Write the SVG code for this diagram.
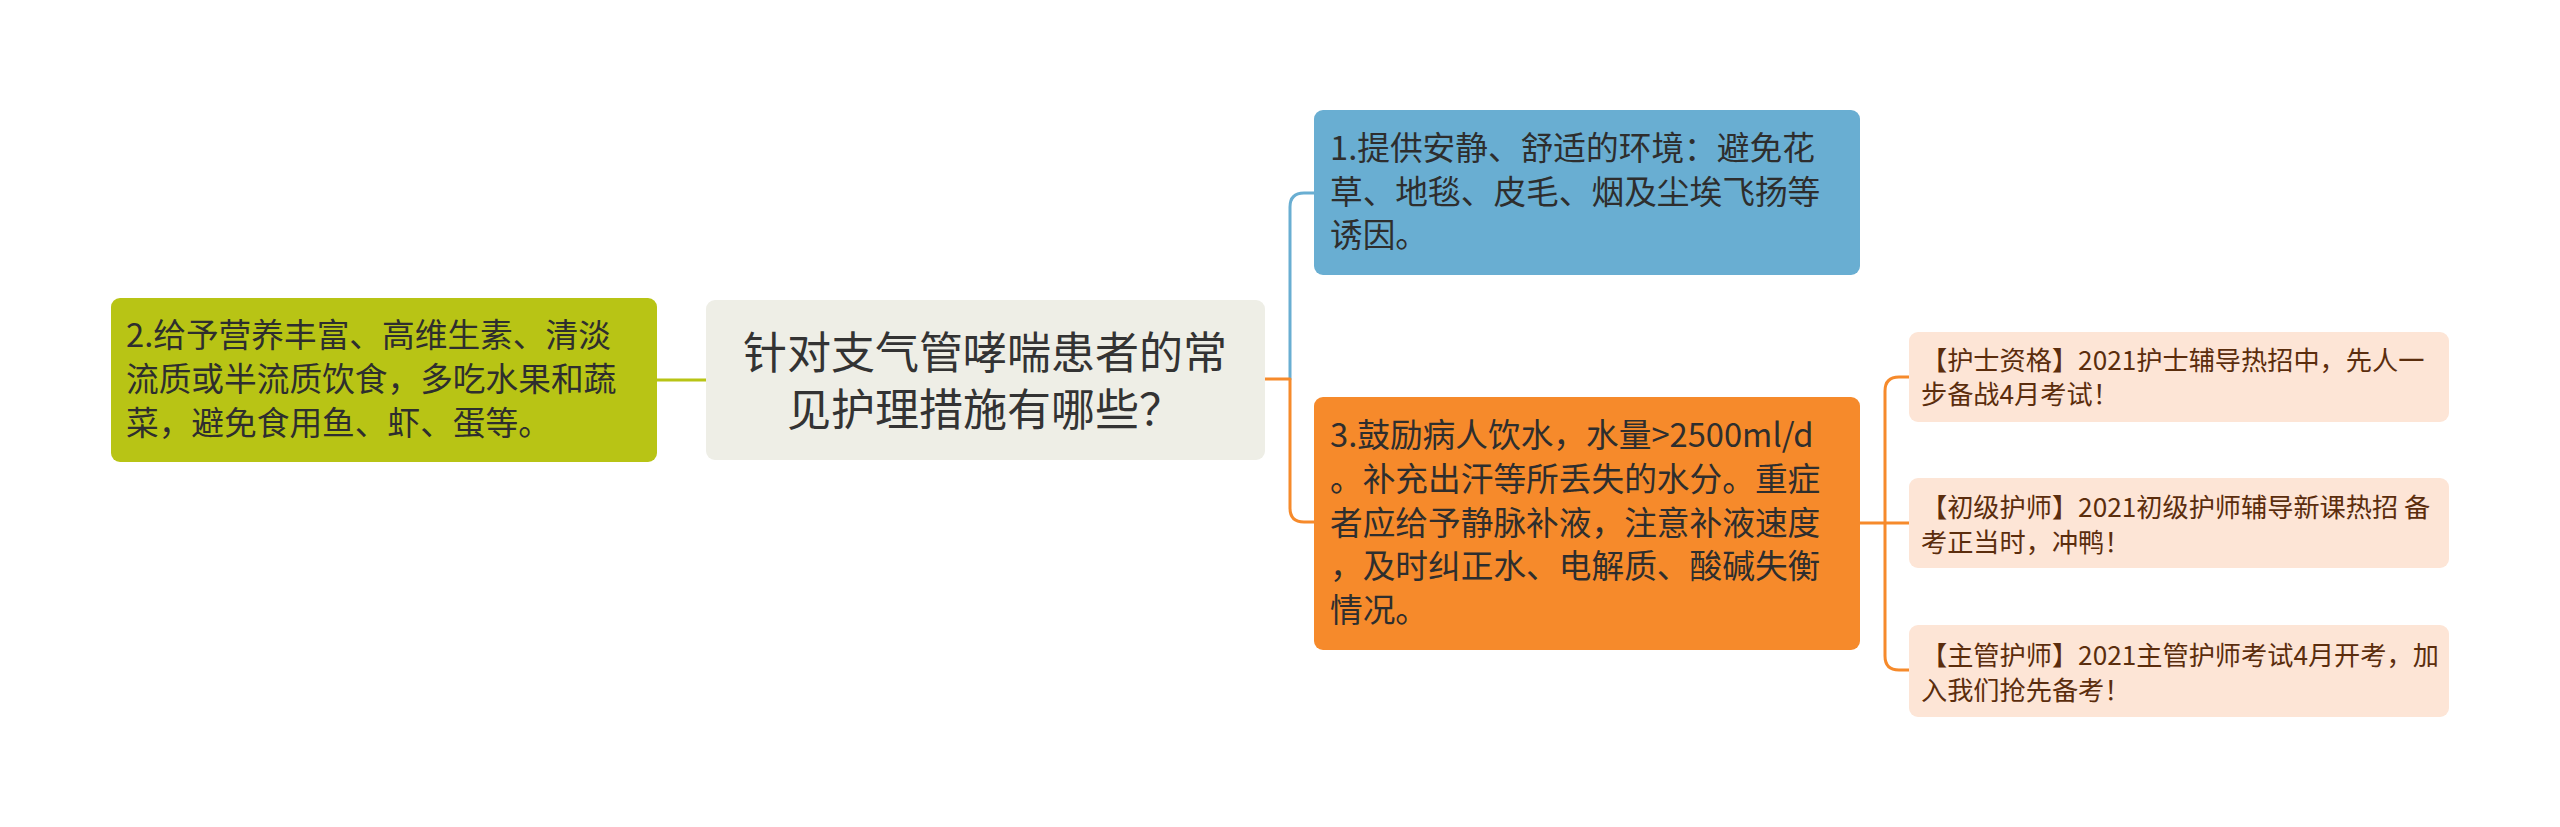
<svg xmlns="http://www.w3.org/2000/svg" width="2560" height="827" viewBox="0 0 2560 827">
<style>
.t{font-family:"Noto Sans CJK SC","Noto Sans",sans-serif;font-size:32.7px;fill:#2e2e2e}
.c{font-family:"Noto Sans CJK SC","Noto Sans",sans-serif;font-size:44px;fill:#333333;text-anchor:middle}
.s{font-family:"Noto Sans CJK SC","Noto Sans",sans-serif;font-size:26.2px;fill:#5b2d0d}
.ln{fill:none;stroke-width:3;stroke-linecap:round;stroke-linejoin:round}
</style>
<rect width="2560" height="827" fill="#ffffff"/>
<g id="connectors">
<path class="ln" stroke="#b8c415" d="M657,380 H706"/>
<path class="ln" stroke="#69aed2" d="M1290,379 V207 Q1290,193 1304,193 H1314"/>
<path class="ln" stroke="#f68a2b" d="M1265,379 H1290 V508 Q1290,522 1304,522 H1314"/>
<path class="ln" stroke="#f68a2b" d="M1860,523 H1909"/>
<path class="ln" stroke="#f68a2b" d="M1885,523 V391 Q1885,377 1899,377 H1909"/>
<path class="ln" stroke="#f68a2b" d="M1885,523 V656 Q1885,670 1899,670 H1909"/>
</g>
<g id="node-center">
<rect x="706" y="300" width="559" height="160" rx="9" fill="#eeeee6"/>
<text class="c" x="985" y="369">针对支气管哮喘患者的常</text>
<text class="c" x="985" y="426">见护理措施有哪些？</text>
</g>
<g id="node-2">
<rect x="111" y="298" width="546" height="164" rx="9" fill="#b8c415"/>
<text class="t" x="126" y="347">2.给予营养丰富、高维生素、清淡</text>
<text class="t" x="126" y="391">流质或半流质饮食，多吃水果和蔬</text>
<text class="t" x="126" y="435">菜，避免食用鱼、虾、蛋等。</text>
</g>
<g id="node-1">
<rect x="1314" y="110" width="546" height="165" rx="9" fill="#69aed2"/>
<text class="t" x="1330" y="160">1.提供安静、舒适的环境：避免花</text>
<text class="t" x="1330" y="204">草、地毯、皮毛、烟及尘埃飞扬等</text>
<text class="t" x="1330" y="247">诱因。</text>
</g>
<g id="node-3">
<rect x="1314" y="397" width="546" height="253" rx="9" fill="#f68a2b"/>
<text class="t" x="1330" y="447">3.鼓励病人饮水，水量&gt;2500ml/d</text>
<text class="t" x="1330" y="491">。补充出汗等所丢失的水分。重症</text>
<text class="t" x="1330" y="535">者应给予静脉补液，注意补液速度</text>
<text class="t" x="1330" y="578">，及时纠正水、电解质、酸碱失衡</text>
<text class="t" x="1330" y="622">情况。</text>
</g>
<g id="node-ad1">
<rect x="1909" y="332" width="540" height="90" rx="9" fill="#fde5d6"/>
<text class="s" x="1921" y="370">【护士资格】2021护士辅导热招中，先人一</text>
<text class="s" x="1921" y="404">步备战4月考试！</text>
</g>
<g id="node-ad2">
<rect x="1909" y="478" width="540" height="90" rx="9" fill="#fde5d6"/>
<text class="s" x="1921" y="517">【初级护师】2021初级护师辅导新课热招 备</text>
<text class="s" x="1921" y="552">考正当时，冲鸭！</text>
</g>
<g id="node-ad3">
<rect x="1909" y="625" width="540" height="92" rx="9" fill="#fde5d6"/>
<text class="s" x="1921" y="665">【主管护师】2021主管护师考试4月开考，加</text>
<text class="s" x="1921" y="700">入我们抢先备考！</text>
</g>
</svg>
